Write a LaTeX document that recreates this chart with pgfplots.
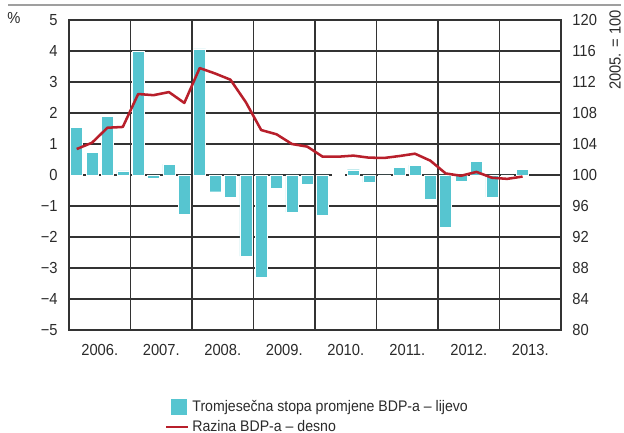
\documentclass[border=0pt]{standalone}
\usepackage{fontspec}
\setmainfont{Liberation Sans}[FakeStretch=0.92]
\usepackage{pgfplots}
\pgfplotsset{compat=1.18}
\definecolor{barc}{HTML}{56C5D0}
\definecolor{linec}{HTML}{B81F2B}
\definecolor{gridc}{HTML}{333333}
\definecolor{txt}{HTML}{2B2B2B}
\begin{document}
\begin{tikzpicture}[x=0.75pt,y=0.75pt]
\path[use as bounding box] (0,0) rectangle (624,432);
\draw[gray!75, line width=0.9pt] (8,427) -- (621,427);
\node[txt,font=\fontsize{12}{14}\selectfont] at (14,414) {\%};
\node[txt,rotate=90,font=\fontsize{12}{14}\selectfont] at (615,382) {2005. = 100};
\begin{axis}[
  at={(51.75pt,76.5pt)}, anchor=south west,
  width=369pt, height=232.5pt, scale only axis,
  xmin=0, xmax=32, ymin=-5, ymax=5,
  ytick={-5,...,5},
  yticklabels={−5,−4,−3,−2,−1,0,1,2,3,4,5},
  xtick={2,6,...,30},
  xticklabels={2006.,2007.,2008.,2009.,2010.,2011.,2012.,2013.},
  minor xtick={4,8,...,28},
  xminorgrids, ymajorgrids,
  major tick length=0pt, minor tick length=0pt,
  grid style={gridc, line width=0.8pt},
  minor grid style={gridc, line width=1pt},
  axis line style={gridc, line width=0.8pt},
  tick label style={txt, font=\fontsize{12}{14}\selectfont},
  yticklabel style={xshift=-5pt},
  xticklabel style={yshift=-7.5pt},
  after end axis/.code={\draw[gridc, line width=1.8pt] (rel axis cs:0,0) -- (rel axis cs:1,0);},
]
\addplot[ybar, bar width=0.78, fill=barc, draw=white, line width=0.3pt] coordinates {
(0.5,1.53) (1.5,0.72) (2.5,1.9) (3.5,0.13)
(4.5,4.0) (5.5,-0.1) (6.5,0.35) (7.5,-1.26)
(8.5,4.07) (9.5,-0.54) (10.5,-0.73) (11.5,-2.62)
(12.5,-3.29) (13.5,-0.43) (14.5,-1.2) (15.5,-0.3)
(16.5,-1.31) (17.5,0.02) (18.5,0.17) (19.5,-0.24)
(20.5,-0.05) (21.5,0.25) (22.5,0.32) (23.5,-0.78)
(24.5,-1.7) (25.5,-0.21) (26.5,0.43) (27.5,-0.71)
(28.5,-0.04) (29.5,0.19)
};
\end{axis}
\begin{axis}[
  at={(51.75pt,76.5pt)}, anchor=south west,
  width=369pt, height=232.5pt, scale only axis,
  xmin=0, xmax=32, ymin=80, ymax=120,
  axis y line*=right, axis x line=none,
  ytick={80,84,...,120},
  /pgf/number format/assume math mode=true,
  major tick length=0pt,
  axis line style={gridc, line width=1pt},
  tick label style={txt, font=\fontsize{12}{14}\selectfont},
  yticklabel style={xshift=5pt},
  legend style={at={(0.195,-0.218)}, anchor=north west, draw=none, fill=none,
    font=\fontsize{11.5}{13}\selectfont, text=txt, row sep=1pt, inner sep=0pt},
  legend cell align=left,
]
\addlegendimage{legend image code/.code={\fill[barc] (3.75pt,-5.6pt) rectangle (15pt,5.6pt);}}
\addlegendentry{Tromjesečna stopa promjene BDP-a – lijevo}
\addplot[linec, line width=1.9pt, line join=round,
  legend image code/.code={\draw[linec, line width=1.9pt] (0pt,0pt) -- (16.5pt,0pt);}] coordinates {
(0.5,103.35) (1.5,104.17) (2.5,106.1) (3.5,106.2)
(4.5,110.45) (5.5,110.3) (6.5,110.7) (7.5,109.3)
(8.5,113.8) (9.5,113.1) (10.5,112.3) (11.5,109.4)
(12.5,105.8) (13.5,105.25) (14.5,104.0) (15.5,103.66)
(16.5,102.36) (17.5,102.36) (18.5,102.5) (19.5,102.24)
(20.5,102.2) (21.5,102.45) (22.5,102.75) (23.5,101.85)
(24.5,100.2) (25.5,99.9) (26.5,100.4) (27.5,99.65)
(28.5,99.5) (29.5,99.8)
};
\addlegendentry{Razina BDP-a – desno}
\end{axis}
\end{tikzpicture}
\end{document}
